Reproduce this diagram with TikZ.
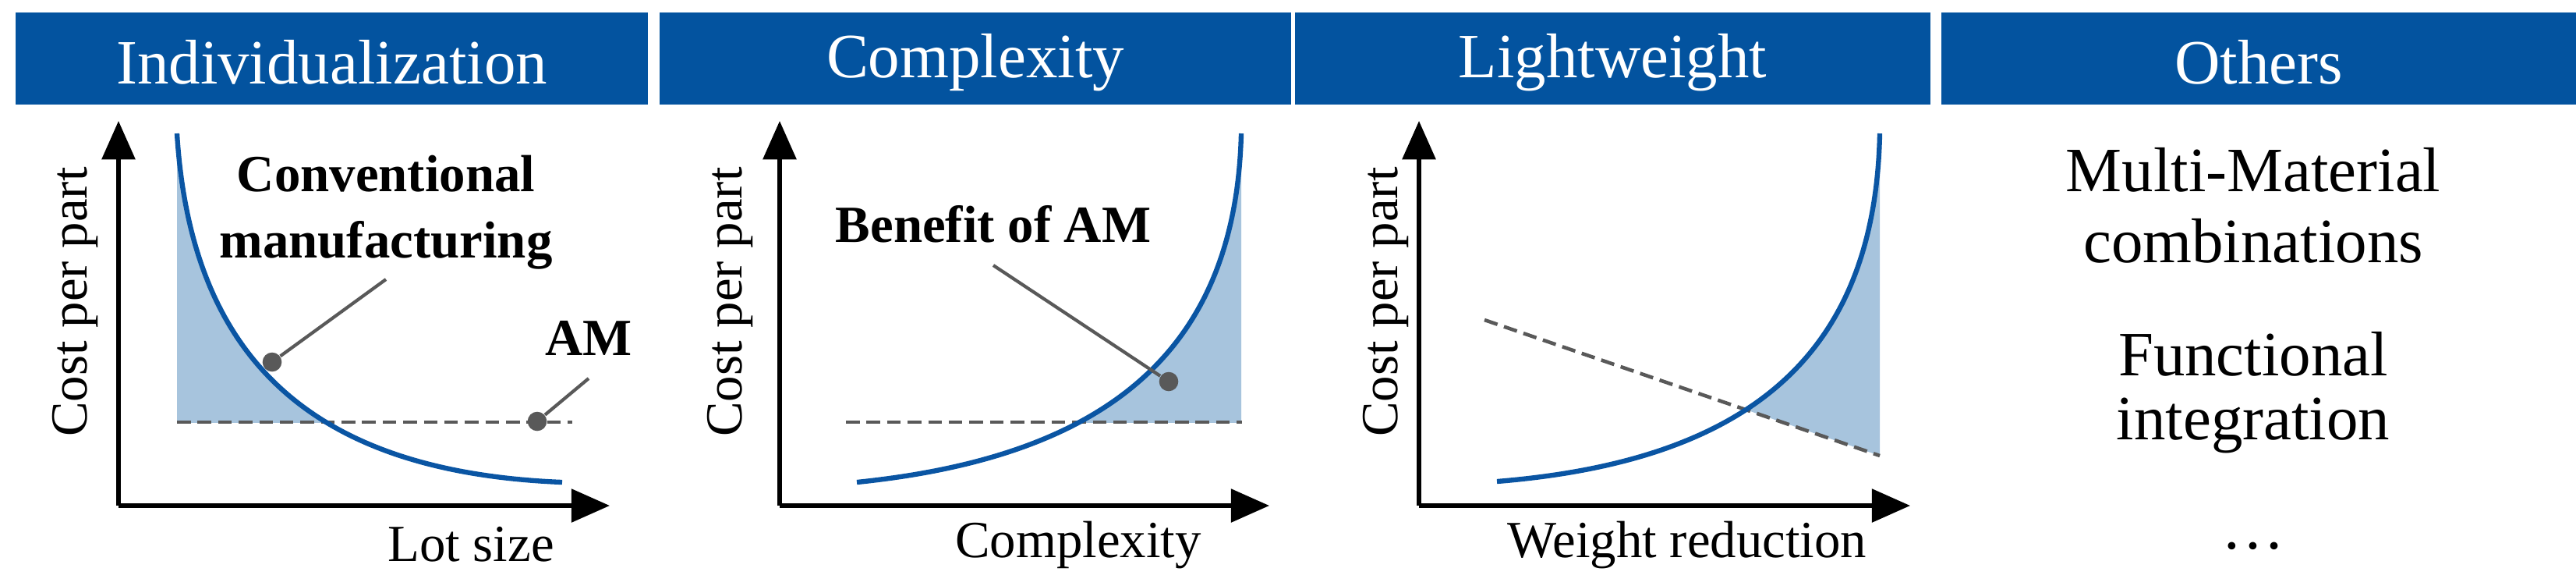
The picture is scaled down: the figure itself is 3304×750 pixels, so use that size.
\documentclass[tikz,border=0pt]{standalone}
\usepackage{fontspec}
\setmainfont{Liberation Serif}
\usetikzlibrary{arrows.meta}
\definecolor{hb}{HTML}{03539F}
\definecolor{cb}{HTML}{0A55A3}
\definecolor{fb}{HTML}{A7C4DD}
\definecolor{gr}{HTML}{595959}
\begin{document}
\begin{tikzpicture}[x=0.01cm,y=-0.01cm,
 hdr/.style={text=white,font=\fontsize{23}{26}\selectfont,inner sep=0pt},
 axis/.style={line width=1.5pt,-{Triangle[length=14pt,width=12pt]}},
 curve/.style={cb,line width=1.8pt},
 dsh/.style={gr,line width=1.3pt,dash pattern=on 5pt off 2.5pt},
 lead/.style={gr,line width=1.2pt},
 dot/.style={circle,fill=gr,inner sep=0pt,minimum size=7pt},
 lbl/.style={font=\fontsize{19}{22}\selectfont,inner sep=0pt},
 blbl/.style={font=\bfseries\fontsize{19}{24}\selectfont,align=center,inner sep=0pt},
 oth/.style={font=\fontsize{23}{28}\selectfont,inner sep=0pt}]
\useasboundingbox (0,0) rectangle (3304,750);
% headers
\fill[hb] (20,16) rectangle (831,134); \node[hdr] (h1) at (425.5,80) {Individualization};
\fill[hb] (846,16) rectangle (1656,134); \node[hdr] (h2) at (1251,80) {Complexity};
\fill[hb] (1661,16) rectangle (2476,134); \node[hdr] (h3) at (2068.5,80) {Lightweight};
\fill[hb] (2490,16) rectangle (3304,134); \node[hdr] (h4) at (2897,80) {Others};
% ---- plot 1
\coordinate (o1) at (152,648); \coordinate (y1) at (152,155); \coordinate (x1) at (782,648);
\begin{scope}
\clip (0,0) rectangle (3304,541);
\fill[fb] (227,171) .. controls (245,460) and (400,605) .. (721,618) -- (227,618) -- cycle;
\end{scope}
\draw[dsh] (227,541) -- (734,541);
\draw[curve] (227,171) .. controls (245,460) and (400,605) .. (721,618);
\draw[axis] (o1) -- (y1);
\draw[axis] (o1) -- (x1);
\node[blbl] (cm) at (495,272) {Conventional\\manufacturing};
\coordinate (c1) at (495,358);
\node[dot] (d1) at (349,464) {};
\draw[lead] (c1) -- (d1);
\node[blbl] (am) at (755,433) {AM};
\coordinate (c2) at (755,485);
\node[dot] (d2) at (689,540) {};
\draw[lead] (c2) -- (d2);
\node[lbl,rotate=90] (yl1) at (96,387) {Cost per part};
\node[lbl] (xl1) at (604,698) {Lot size};
% ---- plot 2
\coordinate (o2) at (1000,648); \coordinate (y2) at (1000,155); \coordinate (x2) at (1628,648);
\begin{scope}
\clip (0,0) rectangle (3304,541);
\fill[fb] (1099,618) .. controls (1420,585) and (1585,450) .. (1592,171) -- (1592,618) -- cycle;
\end{scope}
\draw[dsh] (1085,541) -- (1593,541);
\draw[curve] (1099,618) .. controls (1420,585) and (1585,450) .. (1592,171);
\draw[axis] (o2) -- (y2);
\draw[axis] (o2) -- (x2);
\node[blbl] (ben) at (1274,287) {Benefit of AM};
\coordinate (c3) at (1274,340);
\node[dot] (d3) at (1499,489) {};
\draw[lead] (c3) -- (d3);
\node[lbl,rotate=90] (yl2) at (936,387) {Cost per part};
\node[lbl] (xl2) at (1383,698) {Complexity};
% ---- plot 3
\coordinate (o3) at (1820,648); \coordinate (y3) at (1820,155); \coordinate (x3) at (2450,648);
\begin{scope}
\clip (1904,410) -- (2411,584) -- (2411,0) -- (1904,0) -- cycle;
\fill[fb] (1920,617) .. controls (2250,590) and (2405,450) .. (2411,171) -- (2411,617) -- cycle;
\end{scope}
\draw[dsh] (1904,410) -- (2411,584);
\draw[curve] (1920,617) .. controls (2250,590) and (2405,450) .. (2411,171);
\draw[axis] (o3) -- (y3);
\draw[axis] (o3) -- (x3);
\node[lbl,rotate=90] (yl3) at (1777,387) {Cost per part};
\node[lbl] (xl3) at (2164,698) {Weight reduction};
% ---- others
\node[oth] (t1) at (2890,218) {Multi-Material};
\node[oth] (t2) at (2890,309) {combinations};
\node[oth] (t3) at (2890,454) {Functional};
\node[oth] (t4) at (2890,545) {integration};
\node[oth] (t5) at (2890,700) {\dots};
\end{tikzpicture}
\end{document}
